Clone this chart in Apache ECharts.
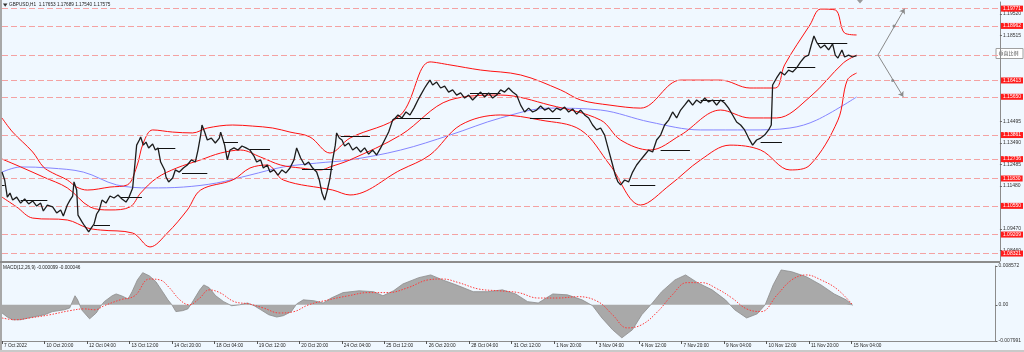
<!DOCTYPE html>
<html><head><meta charset="utf-8">
<script src="https://cdn.jsdelivr.net/npm/echarts@6/dist/echarts.min.js"></script>
<style>html,body{margin:0;padding:0;background:#F0F8FF;}#c{width:1024px;height:352px;}</style>
</head><body><div id="c"></div>
<script>
// ---- data (bar index on x: one H1 bar per unit) ----
const dateLabels = ["7 Oct 2022","10 Oct 20:00","12 Oct 04:00","13 Oct 12:00","14 Oct 20:00","18 Oct 04:00","19 Oct 12:00","20 Oct 20:00","24 Oct 04:00","25 Oct 12:00","26 Oct 20:00","28 Oct 04:00","31 Oct 12:00","1 Nov 20:00","3 Nov 04:00","4 Nov 12:00","7 Nov 20:00","9 Nov 04:00","10 Nov 12:00","11 Nov 20:00","15 Nov 04:00"];
const dateTickIndex = [0,32,64,96,128,160,192,224,256,288,320,352,384,416,448,480,512,544,576,608,640];
const priceAxisLabels = [1.19520,1.18515,1.14495,1.13490,1.12485,1.11480,1.09470,1.08460];
const levelLines = [1.19771,1.18962,1.16413,1.15650,1.13861,1.12736,1.11830,1.10550,1.09209,1.08321];
const bidPrice = 1.17603;
const macdAxisLabels = [0.008572, 0, -0.007991];

const closePath = [[0,1.1213],[2,1.1176],[4,1.1096],[6,1.1115],[8,1.1082],[11,1.1096],[14,1.1068],[17,1.1087],[20,1.1064],[23,1.1078],[26,1.1054],[29,1.1068],[31,1.1031],[34,1.1059],[38,1.1050],[41,1.1022],[44,1.1036],[46,1.1008],[49,1.1059],[51,1.1082],[53,1.1101],[54,1.1167],[56,1.1129],[57,1.1012],[60,1.0980],[62,1.0961],[65,1.0933],[67,1.0952],[69,1.0970],[71,1.1017],[73,1.1036],[75,1.1082],[78,1.1068],[81,1.1101],[84,1.1092],[87,1.1106],[90,1.1087],[93,1.1073],[95,1.1092],[98,1.1139],[100,1.1270],[101,1.1339],[103,1.1363],[104,1.1377],[106,1.1339],[108,1.1353],[110,1.1326],[113,1.1344],[115,1.1316],[117,1.1326],[119,1.1260],[122,1.1223],[123,1.1190],[125,1.1167],[128,1.1185],[130,1.1223],[133,1.1213],[136,1.1232],[139,1.1246],[142,1.1270],[145,1.1260],[147,1.1316],[149,1.1386],[150,1.1433],[152,1.1400],[154,1.1363],[157,1.1372],[160,1.1349],[163,1.1372],[164,1.1400],[167,1.1339],[169,1.1270],[171,1.1316],[174,1.1326],[177,1.1316],[180,1.1335],[183,1.1326],[186,1.1316],[189,1.1288],[191,1.1260],[194,1.1270],[196,1.1232],[199,1.1246],[201,1.1213],[204,1.1223],[207,1.1199],[210,1.1223],[213,1.1209],[216,1.1232],[219,1.1270],[221,1.1326],[224,1.1279],[227,1.1246],[230,1.1260],[233,1.1232],[236,1.1213],[238,1.1176],[240,1.1115],[242,1.1082],[244,1.1129],[246,1.1185],[248,1.1270],[250,1.1339],[251,1.1396],[253,1.1372],[255,1.1363],[257,1.1335],[260,1.1349],[263,1.1316],[266,1.1330],[269,1.1307],[272,1.1326],[275,1.1297],[278,1.1316],[281,1.1293],[284,1.1326],[287,1.1363],[290,1.1400],[293,1.1456],[295,1.1466],[297,1.1480],[300,1.1466],[303,1.1494],[306,1.1480],[309,1.1512],[312,1.1550],[314,1.1573],[317,1.1606],[319,1.1625],[321,1.1643],[323,1.1620],[326,1.1634],[329,1.1606],[332,1.1615],[335,1.1587],[338,1.1597],[341,1.1573],[344,1.1583],[347,1.1559],[350,1.1573],[353,1.1550],[356,1.1569],[359,1.1587],[362,1.1564],[365,1.1583],[368,1.1559],[371,1.1573],[374,1.1597],[377,1.1587],[380,1.1606],[383,1.1587],[386,1.1573],[389,1.1526],[392,1.1494],[395,1.1512],[398,1.1494],[401,1.1503],[404,1.1522],[407,1.1503],[410,1.1512],[413,1.1494],[416,1.1512],[419,1.1503],[422,1.1517],[425,1.1494],[428,1.1508],[431,1.1484],[434,1.1503],[437,1.1480],[440,1.1466],[443,1.1433],[446,1.1410],[449,1.1419],[452,1.1386],[455,1.1316],[458,1.1246],[460,1.1199],[462,1.1167],[464,1.1153],[467,1.1176],[470,1.1167],[473,1.1213],[476,1.1246],[479,1.1270],[482,1.1293],[485,1.1316],[488,1.1307],[491,1.1363],[494,1.1386],[497,1.1433],[500,1.1456],[503,1.1494],[506,1.1466],[509,1.1503],[512,1.1526],[515,1.1550],[518,1.1526],[521,1.1550],[524,1.1536],[527,1.1559],[530,1.1541],[533,1.1550],[536,1.1526],[539,1.1550],[542,1.1536],[545,1.1512],[548,1.1480],[551,1.1447],[554,1.1433],[557,1.1410],[560,1.1372],[563,1.1339],[566,1.1363],[569,1.1372],[572,1.1386],[575,1.1410],[577,1.1433],[578,1.1620],[581,1.1653],[584,1.1681],[587,1.1667],[590,1.1690],[593,1.1681],[596,1.1700],[599,1.1728],[602,1.1751],[605,1.1760],[607,1.1807],[609,1.1849],[611,1.1821],[614,1.1793],[617,1.1807],[620,1.1784],[623,1.1812],[625,1.1760],[627,1.1746],[630,1.1784],[632,1.1751],[635,1.1760],[638,1.1751],[641,1.17575]];

const bbUpper = [[0,1.1466],[8,1.1400],[23,1.1307],[31,1.1237],[38,1.1209],[49,1.1176],[56,1.1143],[64,1.1129],[81,1.1143],[94,1.1153],[101,1.1237],[106,1.1349],[113,1.1410],[128,1.1400],[143,1.1396],[154,1.1419],[173,1.1433],[188,1.1428],[203,1.1419],[216,1.1400],[231,1.1377],[246,1.1302],[261,1.1372],[299,1.1480],[321,1.1728],[336,1.1714],[359,1.1690],[389,1.1667],[419,1.1597],[434,1.1550],[456,1.1526],[479,1.1512],[509,1.1643],[539,1.1643],[561,1.1606],[580,1.1606],[587,1.1714],[606,1.1901],[614,1.1975],[625,1.1971],[632,1.1863],[641,1.1854]];
const bbMiddle = [[0,1.1274],[14,1.1237],[31,1.1190],[49,1.1139],[66,1.1050],[81,1.1036],[96,1.1050],[104,1.1115],[116,1.1185],[131,1.1232],[149,1.1270],[164,1.1302],[179,1.1316],[194,1.1283],[209,1.1246],[224,1.1232],[239,1.1223],[246,1.1237],[261,1.1270],[299,1.1386],[336,1.1550],[374,1.1573],[411,1.1526],[449,1.1456],[464,1.1363],[486,1.1316],[509,1.1386],[539,1.1503],[561,1.1466],[581,1.1466],[606,1.1564],[631,1.1723],[641,1.1760]];
const bbLower = [[0,1.1096],[11,1.1050],[23,1.0998],[49,1.0989],[64,1.0952],[74,1.0942],[98,1.0928],[111,1.0863],[124,1.0928],[139,1.1036],[149,1.1129],[173,1.1176],[186,1.1232],[199,1.1246],[211,1.1176],[248,1.1129],[261,1.1106],[299,1.1223],[321,1.1293],[344,1.1433],[374,1.1480],[404,1.1456],[434,1.1410],[456,1.1246],[479,1.1059],[501,1.1153],[524,1.1270],[546,1.1339],[569,1.1316],[591,1.1223],[606,1.1246],[627,1.1456],[634,1.1643],[641,1.1676]];
const maBlue = [[0,1.1213],[14,1.1237],[36,1.1232],[61,1.1213],[86,1.1153],[111,1.1139],[136,1.1143],[161,1.1162],[186,1.1199],[211,1.1237],[236,1.1255],[261,1.1270],[299,1.1316],[336,1.1386],[374,1.1466],[411,1.1512],[449,1.1503],[486,1.1447],[524,1.1410],[561,1.1410],[591,1.1419],[611,1.1456],[641,1.1564]];

const macdHist = [[0,-0.0018],[4,-0.0027],[8,-0.0033],[14,-0.0033],[23,-0.0027],[32,-0.0022],[38,-0.0015],[47,-0.0011],[51,-0.0007],[55,0.0020],[57,0.0011],[60,-0.0011],[66,-0.0031],[71,-0.0018],[74,-0.0004],[77,0.0007],[83,0.0020],[86,0.0024],[90,0.0020],[95,0.0013],[98,0.0029],[102,0.0055],[106,0.0071],[111,0.0064],[116,0.0051],[121,0.0029],[125,0.0011],[128,0],[131,-0.0015],[136,-0.0013],[140,-0.0009],[143,0.0004],[149,0.0033],[152,0.0044],[156,0.0038],[161,0.0020],[167,0.0007],[173,-0.0002],[179,0],[185,0.0004],[190,-0.0002],[195,-0.0011],[201,-0.0022],[207,-0.0027],[212,-0.0024],[218,-0.0015],[222,0.0002],[227,0.0011],[235,0.0009],[242,0.0004],[248,0.0015],[257,0.0027],[269,0.0031],[280,0.0029],[287,0.0020],[295,0.0031],[302,0.0046],[314,0.0060],[323,0.0066],[332,0.0055],[344,0.0042],[355,0.0029],[366,0.0029],[377,0.0033],[387,0.0024],[396,0.0007],[404,0.0004],[415,0.0024],[426,0.0022],[437,0.0011],[445,-0.0002],[452,-0.0029],[460,-0.0055],[467,-0.0073],[475,-0.0055],[482,-0.0022],[490,0.0004],[497,0.0029],[507,0.0055],[515,0.0066],[524,0.0049],[535,0.0033],[545,0.0011],[552,-0.0011],[561,-0.0029],[569,-0.0020],[575,0],[581,0.0044],[587,0.0077],[595,0.0073],[606,0.0062],[617,0.0044],[627,0.0024],[636,0.0011],[641,-0.0001]];
const macdSignal = [[0,-0.0029],[10,-0.0033],[21,-0.0029],[36,-0.0022],[51,-0.0013],[62,-0.0009],[70,-0.0011],[77,-0.0002],[89,0.0011],[100,0.0020],[111,0.0057],[119,0.0055],[126,0.0038],[134,0.0011],[141,0],[149,0.0015],[156,0.0033],[164,0.0027],[175,0.0007],[186,0.0002],[197,-0.0007],[209,-0.0018],[220,-0.0015],[231,0],[246,0.0011],[261,0.0020],[276,0.0027],[291,0.0027],[306,0.0038],[321,0.0055],[332,0.0057],[344,0.0049],[359,0.0035],[374,0.0031],[389,0.0027],[404,0.0015],[419,0.0015],[434,0.0018],[449,0.0007],[460,-0.0022],[471,-0.0051],[482,-0.0044],[494,-0.0015],[505,0.0022],[516,0.0049],[527,0.0049],[539,0.0035],[550,0.0015],[561,-0.0009],[572,-0.0015],[584,0.0022],[595,0.0055],[606,0.0066],[617,0.0055],[629,0.0035],[641,-0.00005]];

const levelSegments = [[0,2,1.1153],[14,34,1.1082],[69,81,1.0966],[89,105,1.1096],[117,130,1.1326],[135,154,1.1209],[166,177,1.1353],[186,201,1.1321],[225,248,1.1227],[254,276,1.1382],[295,321,1.1466],[351,374,1.1583],[396,419,1.1466],[471,490,1.1153],[494,516,1.1316],[524,542,1.1550],[569,585,1.1353],[589,610,1.1704],[612,634,1.1816]];
const projUp = [[657,1.17603],[669,1.18962],[677,1.19771]];
const projDown = [[657,1.17603],[668,1.16413],[676,1.15650]];

// ---- chart ----
const FONT = 'Liberation Sans';
const XMAX = 748.5;
const chart = echarts.init(document.getElementById('c'), null, {renderer:'canvas', width:1024, height:352});
const lineS = (data, color, extra) => Object.assign({type:'line', xAxisIndex:0, yAxisIndex:0, data, symbol:'none', smooth:0.35, silent:true, lineStyle:{color, width:1}}, extra||{});

chart.setOption({
  animation:false,
  backgroundColor:'#F0F8FF',
  grid:[{left:2,right:24,top:2,height:259},{left:2,right:24,top:266,height:75}],
  xAxis:[
    {type:'value',gridIndex:0,min:0,max:XMAX,axisLine:{show:false},axisTick:{show:false},axisLabel:{show:false},splitLine:{show:false}},
    {type:'value',gridIndex:1,min:0,max:XMAX,axisLine:{show:true,onZero:false,lineStyle:{color:'#8c8c8c'}},
     axisTick:{show:true,length:3,customValues:dateTickIndex,lineStyle:{color:'#555'}},
     axisLabel:{customValues:dateTickIndex,formatter:v=>dateLabels[dateTickIndex.indexOf(Math.round(v))]||'',align:'left',padding:[0,0,0,2],margin:2,fontSize:4.7,fontFamily:FONT,color:'#222'},
     splitLine:{show:false}}
  ],
  yAxis:[
    {type:'value',gridIndex:0,position:'right',min:1.07973,max:1.20081,axisLine:{show:true,onZero:false,lineStyle:{color:'#8c8c8c'}},
     axisTick:{show:true,length:2,customValues:priceAxisLabels,lineStyle:{color:'#666'}},
     axisLabel:{customValues:priceAxisLabels,formatter:v=>v.toFixed(5),fontSize:5,margin:3,color:'#333',fontFamily:FONT},splitLine:{show:false}},
    {type:'value',gridIndex:1,position:'right',min:-0.007991,max:0.008572,axisLine:{show:true,onZero:false,lineStyle:{color:'#8c8c8c'}},
     axisTick:{show:true,length:2,customValues:macdAxisLabels,lineStyle:{color:'#666'}},
     axisLabel:{customValues:macdAxisLabels,formatter:v=>v===0?'0.00':v.toFixed(6),fontSize:5,margin:3,color:'#333',fontFamily:FONT},splitLine:{show:false}}
  ],
  series:[
    {type:'line',xAxisIndex:0,yAxisIndex:0,data:[[0,bidPrice]],symbol:'none',lineStyle:{width:0},silent:true,z:1,
     markLine:{silent:true,symbol:'none',animation:false,precision:6,
       lineStyle:{color:'#f4a2a2',type:[6,3],width:1},
       label:{show:true,position:'end',formatter:p=>Number(p.value).toFixed(5),backgroundColor:'#ff1c1c',color:'#ffffff',fontSize:5,fontFamily:FONT,padding:[1,2,0,2],distance:1},
       data:levelLines.map(v=>({yAxis:v})).concat([{yAxis:bidPrice,label:{show:false}}])}},
    lineS(maBlue,'#8585ff',{z:2}),
    lineS(bbUpper,'#ff1010',{z:3}),
    lineS(bbMiddle,'#ff1010',{z:3}),
    lineS(bbLower,'#ff1010',{z:3}),
    {type:'lines',coordinateSystem:'cartesian2d',xAxisIndex:0,yAxisIndex:0,silent:true,z:4,
     data:levelSegments.map(s=>({coords:[[s[0],s[2]],[s[1],s[2]]]})),lineStyle:{color:'#111',width:1,opacity:1}},
    lineS(closePath,'#1c1c1c',{smooth:false,z:5,lineStyle:{color:'#1c1c1c',width:1.3}}),
    {type:'lines',coordinateSystem:'cartesian2d',xAxisIndex:0,yAxisIndex:0,silent:true,z:6,symbol:['none','arrow'],symbolSize:5,
     data:[{coords:[projUp[0],projUp[2]]},{coords:[projDown[0],projDown[2]]}],lineStyle:{color:'#8a8a8a',width:1,opacity:1}},
    {type:'scatter',xAxisIndex:0,yAxisIndex:0,silent:true,z:6,symbolSize:3,itemStyle:{color:'#7a7a7a'},data:[projUp[1],projDown[1]]},
    {type:'line',xAxisIndex:1,yAxisIndex:1,data:macdHist,symbol:'none',silent:true,z:2,lineStyle:{color:'#8c8c8c',width:0.8},areaStyle:{color:'#a9a9a9',opacity:1,origin:'auto'}},
    {type:'line',xAxisIndex:1,yAxisIndex:1,data:macdSignal,symbol:'none',smooth:0.4,silent:true,z:3,lineStyle:{color:'#ff3b3b',width:1,type:[1.5,1.5]}}
  ],
  graphic:[
    {type:'rect',shape:{x:0,y:0,width:2,height:352},style:{fill:'#a8a8a8'},silent:true},
    {type:'rect',shape:{x:0,y:261,width:1000,height:2},style:{fill:'#8c8c8c'},silent:true},
    {type:'rect',shape:{x:0,y:350,width:1024,height:2},style:{fill:'#c9c9c9'},silent:true},
    {type:'polygon',shape:{points:[[3,3.5],[7.5,3.5],[5.2,6.8]]},style:{fill:'#333'},silent:true},
    {type:'text',x:9,y:2.5,silent:true,style:{text:'GBPUSD,H1  1.17653 1.17689 1.17540 1.17575',fontSize:4.7,fontFamily:FONT,fill:'#222'}},
    {type:'text',x:3,y:265,silent:true,style:{text:'MACD(12,26,9) -0.000099 -0.000046',fontSize:4.7,fontFamily:FONT,fill:'#222'}},
    {type:'polygon',shape:{points:[[857,0],[863,0],[860,3.5]]},style:{fill:'#9a9a9a'},silent:true},
    {type:'rect',shape:{x:996,y:48.5,width:27,height:10},style:{fill:'#ffffff',stroke:'#a0a0a0',lineWidth:1},silent:true},
    {type:'text',x:998.5,y:50.5,silent:true,style:{text:'垂直比例',fontSize:5,fontFamily:'Noto Sans CJK SC',fill:'#555'}}
  ]
});
</script></body></html>
